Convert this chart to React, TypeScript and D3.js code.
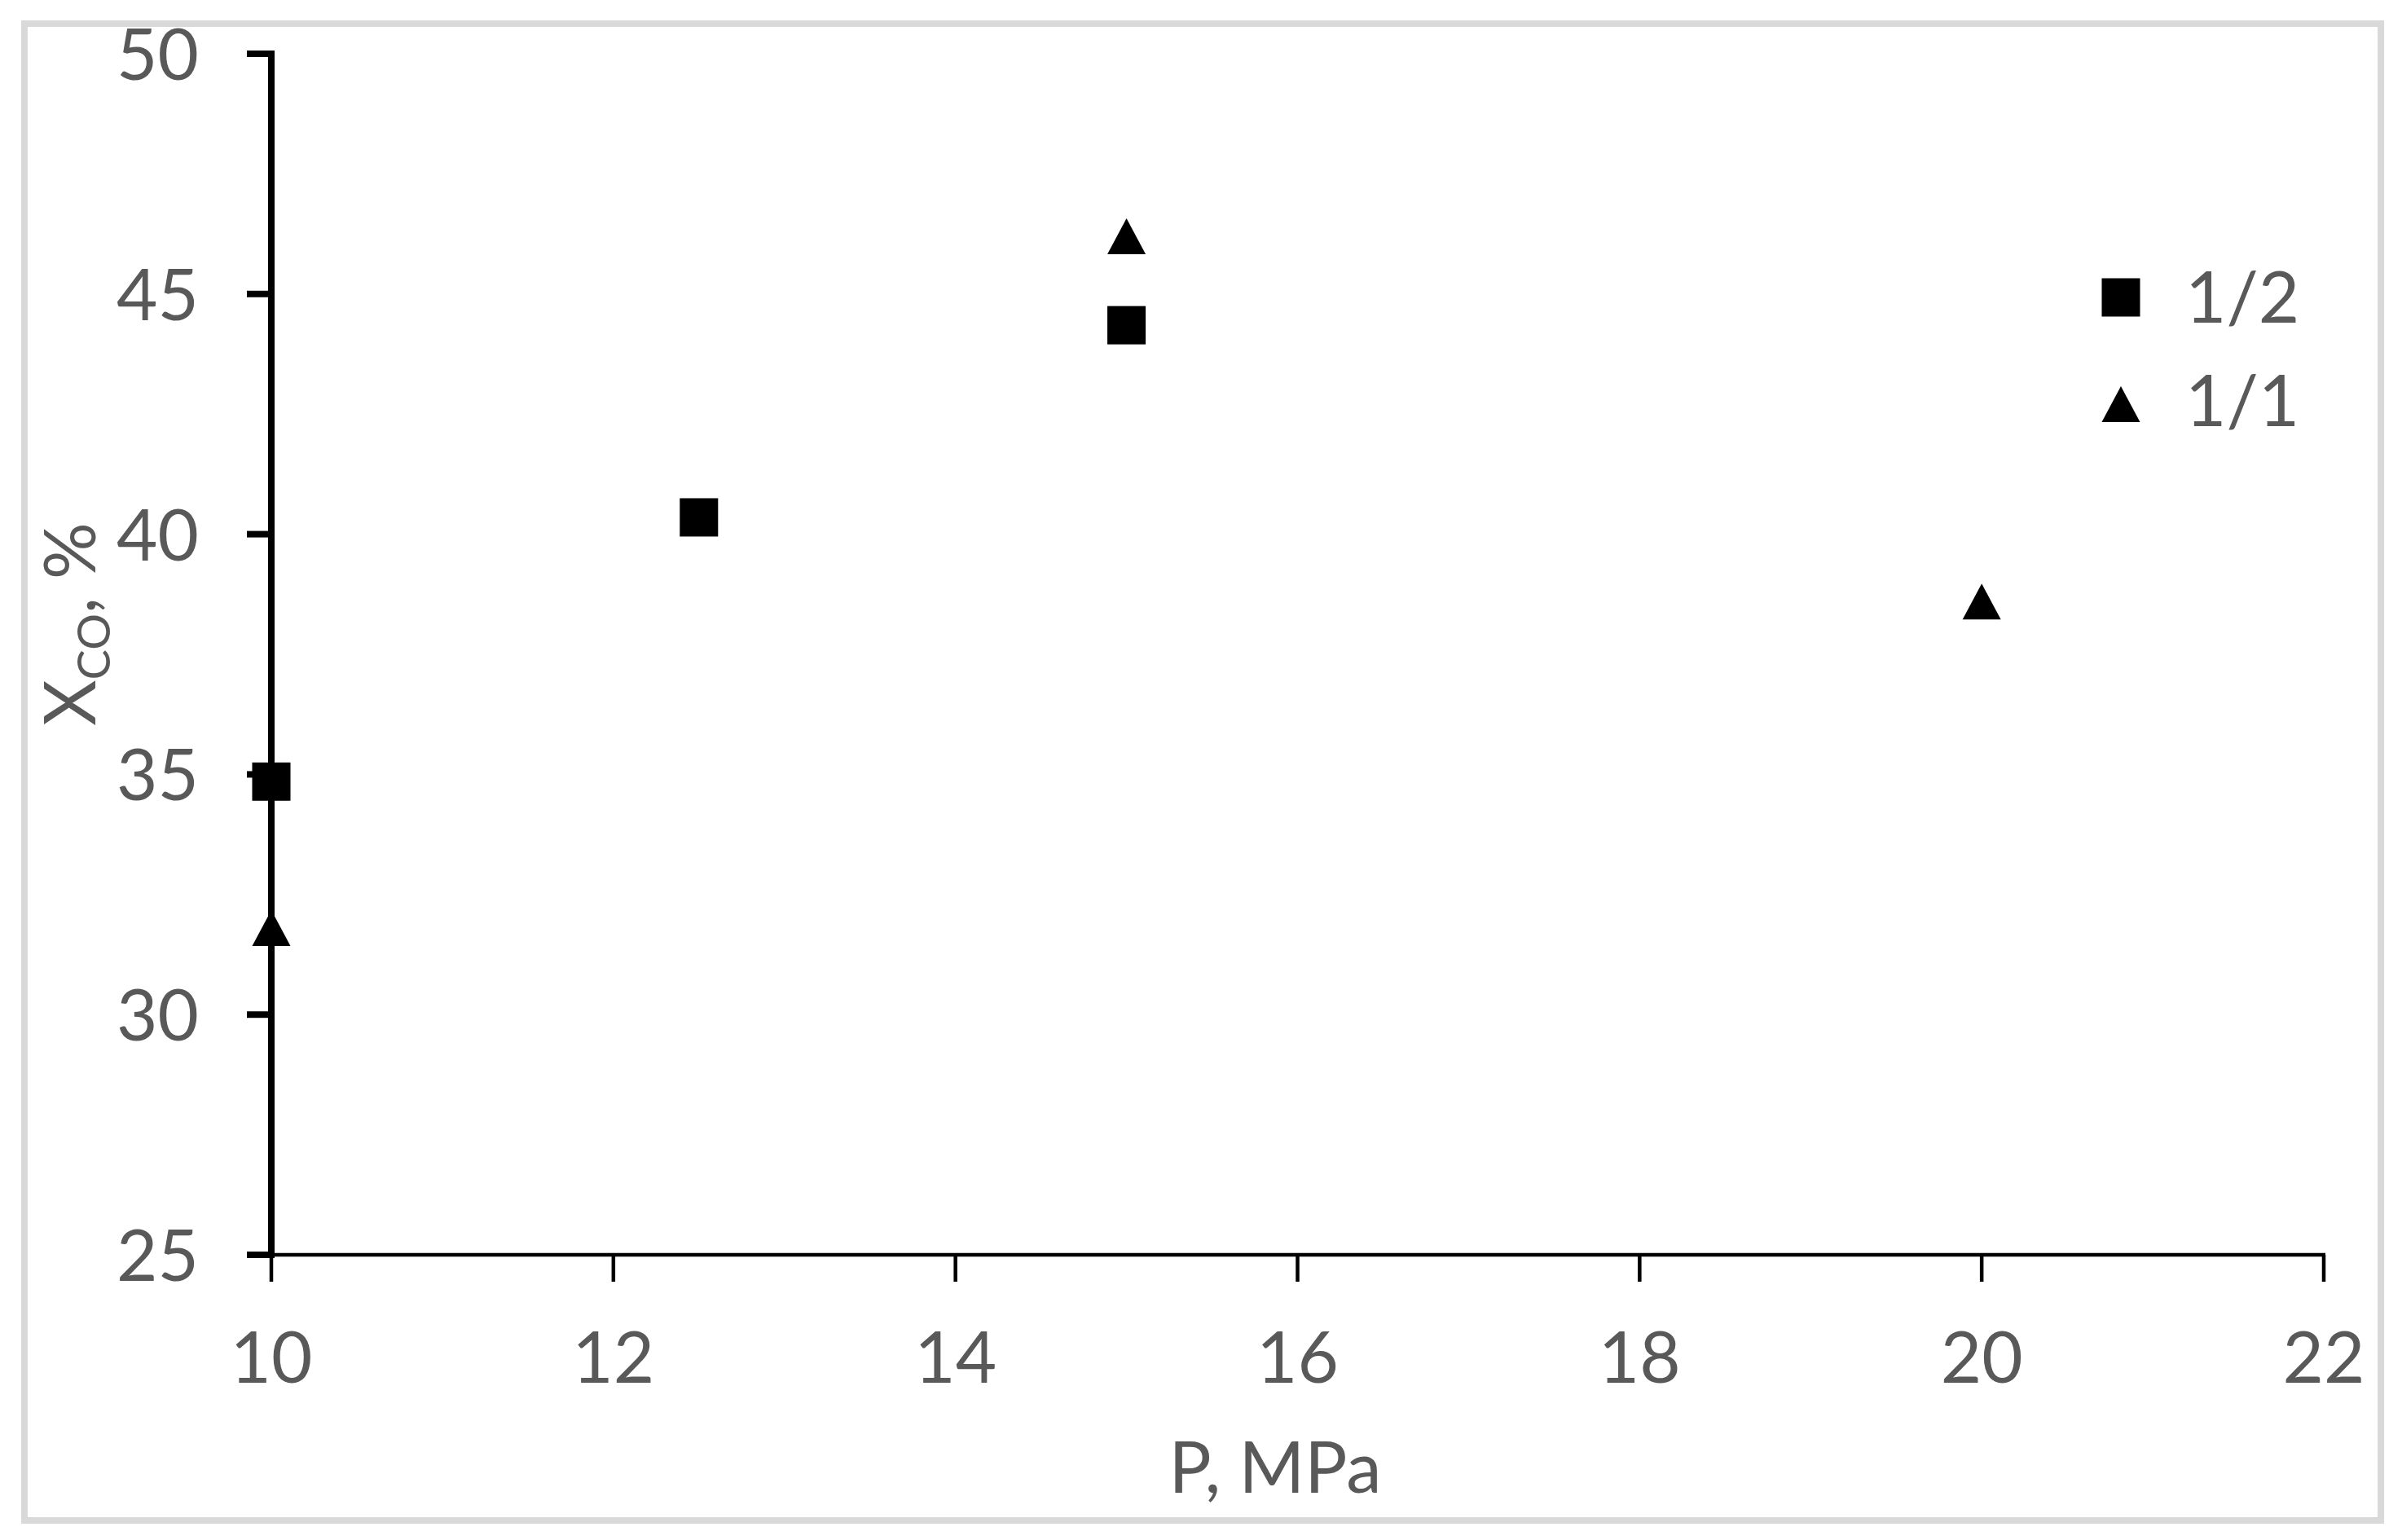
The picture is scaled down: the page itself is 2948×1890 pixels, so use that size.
import React from "react";
import * as d3 from "d3";

const xTicks = [10, 12, 14, 16, 18, 20, 22];
const yTicks = [25, 30, 35, 40, 45, 50];

const ratio12X = [10, 12.5, 15];
const ratio12Y = [34.85, 40.35, 44.35];

const ratio11X = [10, 15, 20];
const ratio11Y = [31.8, 46.2, 38.6];

const legendLabels = ["1/2", "1/1"];

const W = 2948;
const H = 1890;
const FONT = "Lato, 'Open Sans', sans-serif";
const TEXT = "#595959";

export default function App() {
  const x = d3.scaleLinear().domain([10, 22]).range([333, 2852]);
  const y = d3.scaleLinear().domain([25, 50]).range([1540, 66]);

  const sq = 47;
  const triW = 47;
  const triH = 44;
  const tri = (cx: number, cy: number) =>
    `M${cx},${cy - triH / 2}L${cx + triW / 2},${cy + triH / 2}L${cx - triW / 2},${cy + triH / 2}Z`;

  const fs = 87;

  return (
    <svg
      width={W}
      height={H}
      style={{ position: "absolute", left: 0, top: 0, background: "#fff" }}
    >
      <rect x={0} y={0} width={W} height={H} fill="#fff" />
      <rect x={30} y={29} width={2892} height={1837} fill="none" stroke="#d9d9d9" strokeWidth={8} />

      {/* y axis */}
      <line x1={x(10)} x2={x(10)} y1={y(50) - 4} y2={y(25) + 4} stroke="#000" strokeWidth={8} />
      {yTicks.map((t) => (
        <line key={"yt" + t} x1={x(10) - 30} x2={x(10)} y1={y(t)} y2={y(t)} stroke="#000" strokeWidth={8} />
      ))}
      {yTicks.map((t) => (
        <text
          key={"yl" + t}
          x={244}
          y={y(t) + 32}
          textAnchor="end"
          fontFamily={FONT}
          fontSize={fs}
          fill={TEXT}
        >
          {t}
        </text>
      ))}

      {/* x axis */}
      <line x1={x(10)} x2={x(22) + 2} y1={y(25)} y2={y(25)} stroke="#000" strokeWidth={4.5} />
      {xTicks.map((t) => (
        <line key={"xt" + t} x1={x(t)} x2={x(t)} y1={y(25)} y2={y(25) + 33} stroke="#000" strokeWidth={4.5} />
      ))}
      {xTicks.map((t) => (
        <text
          key={"xl" + t}
          x={x(t)}
          y={1697}
          textAnchor="middle"
          fontFamily={FONT}
          fontSize={fs}
          fill={TEXT}
        >
          {t}
        </text>
      ))}

      {/* axis titles */}
      <text x={1565} y={1832} textAnchor="middle" fontFamily={FONT} fontSize={fs} fill={TEXT}>
        P, MPa
      </text>
      <text
        transform="translate(117,766) rotate(-90)"
        textAnchor="middle"
        fontFamily={FONT}
        fontSize={fs}
        fill={TEXT}
      >
        X
        <tspan fontSize={56} dy={18}>CO</tspan>
        <tspan dy={-18}>, %</tspan>
      </text>

      {/* series 1/2 squares */}
      {ratio12X.map((v, i) => (
        <rect
          key={"s" + i}
          x={x(v) - sq / 2}
          y={y(ratio12Y[i]) - sq / 2}
          width={sq}
          height={sq}
          fill="#000"
        />
      ))}
      {/* series 1/1 triangles */}
      {ratio11X.map((v, i) => (
        <path key={"t" + i} d={tri(x(v), y(ratio11Y[i]))} fill="#000" />
      ))}

      {/* legend */}
      <rect x={2603 - sq / 2} y={365 - sq / 2} width={sq} height={sq} fill="#000" />
      <text x={2682} y={396} fontFamily={FONT} fontSize={fs} fill={TEXT}>
        {legendLabels[0]}
      </text>
      <path d={tri(2603, 496)} fill="#000" />
      <text x={2682} y={523} fontFamily={FONT} fontSize={fs} fill={TEXT}>
        {legendLabels[1]}
      </text>
    </svg>
  );
}
